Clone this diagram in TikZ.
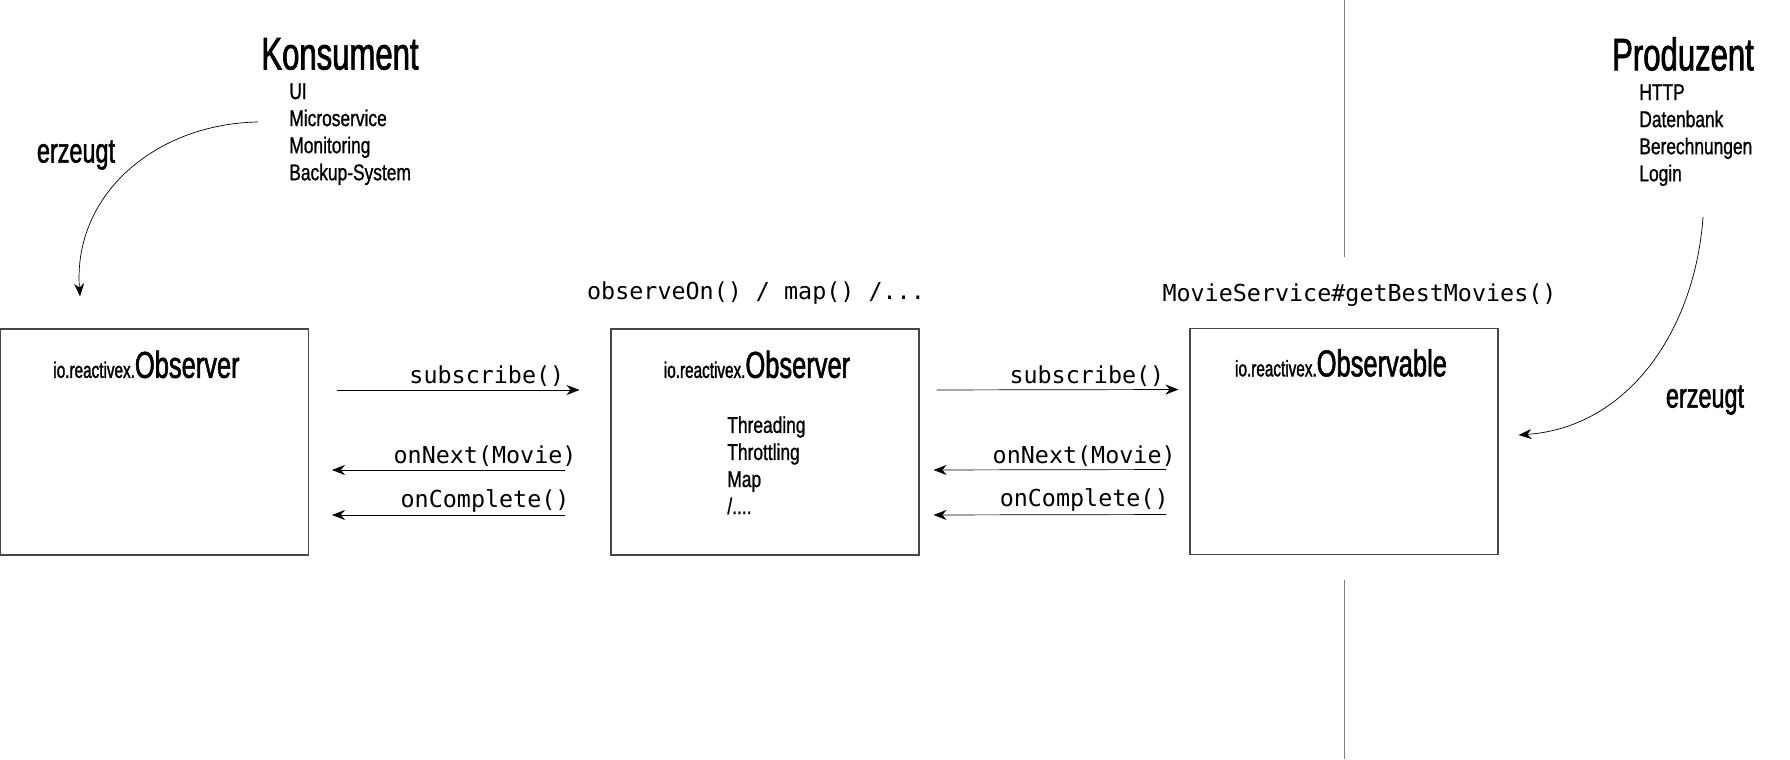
\documentclass[tikz,border=0pt]{standalone}
\usepackage{fontspec}
\setmainfont{Liberation Sans}[FakeStretch=0.76, FakeBold=1.0]
\newfontfamily\headfont{Liberation Sans}[FakeStretch=0.68, FakeBold=1.5]
\setmonofont{DejaVu Sans Mono}
\usepackage{tikz}
\usetikzlibrary{arrows.meta, positioning, calc}

\begin{document}
\begin{tikzpicture}[
    objbox/.style={rectangle, draw=black!72, semithick, minimum width=6.16cm, minimum height=4.52cm},
    roletitle/.style={font=\headfont\fontsize{26}{30}\selectfont},
    rolelist/.style={anchor=north west, align=left, inner sep=0pt, font=\fontsize{13}{15.4}\selectfont},
    classtitle/.style={inner sep=0pt},
    callabel/.style={font=\ttfamily\fontsize{13.3}{16}\selectfont, inner sep=1.5pt},
    erzlabel/.style={font=\headfont\fontsize{19.6}{23}\selectfont},
    arrow/.style={-{Stealth[length=2.6mm, width=2mm]}, thin, draw=black},
    divider/.style={draw=black!50, thin}
]
\useasboundingbox (0,0) rectangle (35.8,15.18);

\newcommand{\classname}[2]{{\headfont\fontsize{12.8}{15}\selectfont #1}{\headfont\fontsize{21.3}{25}\selectfont #2}}

% Roles
\node[roletitle] (konsument) at (6.8, 14.1) {Konsument};
\node[rolelist] (konsList) at (5.78, 13.52) {UI\\Microservice\\Monitoring\\Backup-System};
\node[roletitle] (produzent) at (33.66, 14.1) {Produzent};
\node[rolelist] (prodList) at (32.78, 13.50) {HTTP\\Datenbank\\Berechnungen\\Login};

% Separator consumer / producer
\draw[divider] (26.88, 15.18) -- (26.88, 10.04);
\draw[divider] (26.88, 3.58) -- (26.88, 0);

% Boxes
\node[objbox] (obsA) at (3.09, 6.34) {};
\node[objbox] (obsB) at (15.3, 6.34) {};
\node[objbox] (obsC) at (26.88, 6.35) {};

\node[classtitle] (titleA) at ([xshift=-0.16cm, yshift=-0.72cm]obsA.north) {\classname{io.reactivex.}{Observer}};
\node[classtitle] (titleB) at ([xshift=-0.16cm, yshift=-0.72cm]obsB.north) {\classname{io.reactivex.}{Observer}};
\node[classtitle] (titleC) at ([xshift=-0.06cm, yshift=-0.70cm]obsC.north) {\classname{io.reactivex.}{Observable}};

\node[rolelist] (opsList) at (14.54, 6.86) {Threading\\Throttling\\Map\\/....};

% Operator / source calls
\node[callabel] (opsCall) at (15.12, 9.32) {observeOn() / map() /...};
\node[callabel] (srcCall) at (27.19, 9.28) {MovieService\#getBestMovies()};

% Calls between boxes
\draw[arrow, shorten <=0.56cm, shorten >=0.62cm] ([yshift=1.04cm]obsA.east) -- node[callabel, above, pos=0.59] {subscribe()} ([yshift=1.04cm]obsB.west);
\draw[arrow, shorten <=0.9cm, shorten >=0.46cm] ([yshift=-0.56cm]obsB.west) -- node[callabel, above, pos=0.416] {onNext(Movie)} ([yshift=-0.56cm]obsA.east);
\draw[arrow, shorten <=0.9cm, shorten >=0.46cm] ([yshift=-1.46cm]obsB.west) -- node[callabel, above, pos=0.416] {onComplete()} ([yshift=-1.46cm]obsA.east);

\draw[arrow, shorten <=0.34cm, shorten >=0.22cm] ([yshift=1.04cm]obsB.east) -- node[callabel, above, pos=0.62] {subscribe()} ([yshift=1.04cm]obsC.west);
\draw[arrow, shorten <=0.46cm, shorten >=0.28cm] ([yshift=-0.56cm]obsC.west) -- node[callabel, above, pos=0.39] {onNext(Movie)} ([yshift=-0.56cm]obsB.east);
\draw[arrow, shorten <=0.46cm, shorten >=0.28cm] ([yshift=-1.46cm]obsC.west) -- node[callabel, above, pos=0.39] {onComplete()} ([yshift=-1.46cm]obsB.east);

% Creation arrows
\coordinate (erzA) at (5.16, 12.74);
\coordinate (erzB) at (34.06, 10.84);
\draw[arrow] (erzA) to[out=181, in=94, looseness=1.05] ([xshift=-1.49cm, yshift=0.64cm]obsA.north);
\node[erzlabel] (erzLabelA) at (1.52, 12.08) {erzeugt};
\draw[arrow] (erzB) to[out=266, in=4, looseness=1.0] ([xshift=0.40cm, yshift=0.13cm]obsC.east);
\node[erzlabel] (erzLabelB) at (34.1, 7.18) {erzeugt};

\end{tikzpicture}
\end{document}
